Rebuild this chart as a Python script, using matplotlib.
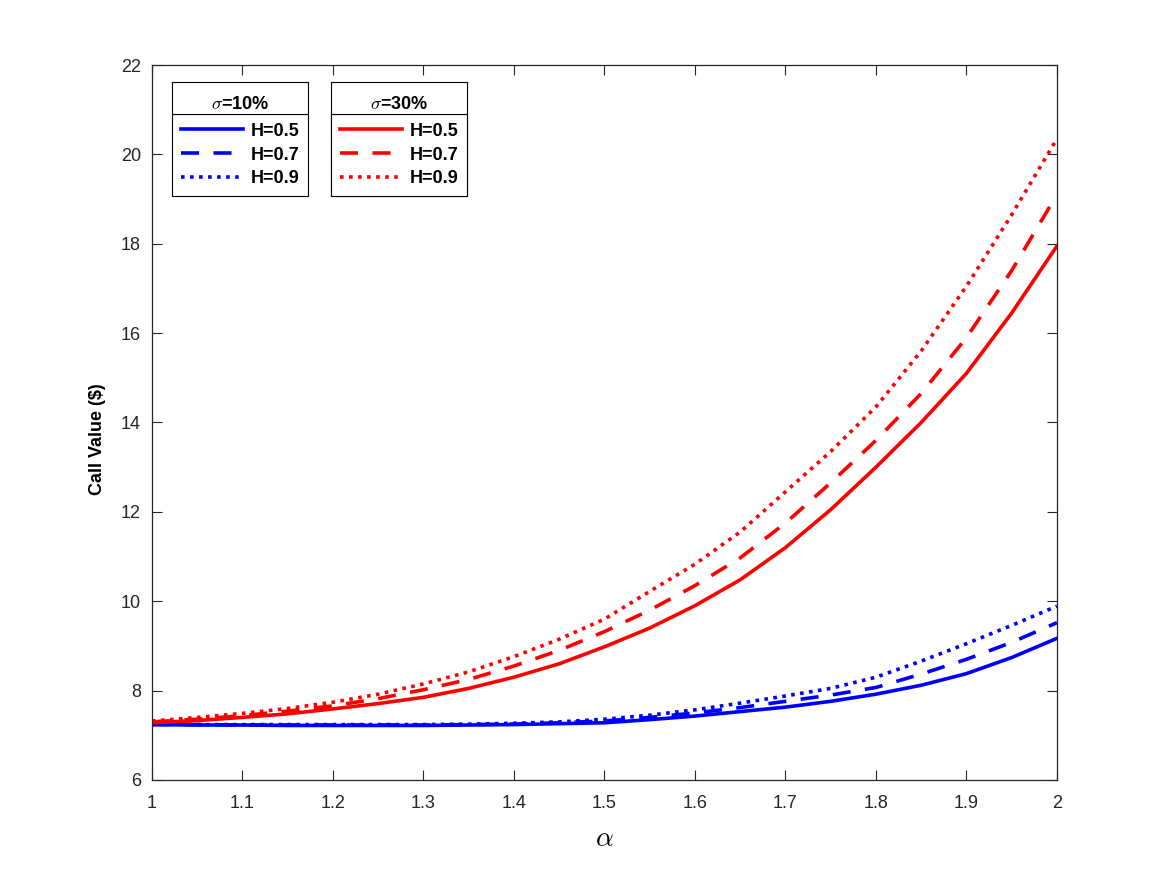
import numpy as np
import matplotlib
matplotlib.use('Agg')
import matplotlib.pyplot as plt
from matplotlib.patches import Rectangle

plt.rcParams['font.family'] = ['Liberation Sans', 'DejaVu Sans']
plt.rcParams['mathtext.fontset'] = 'cm'

# alpha grid
alpha = [1.00, 1.05, 1.10, 1.15, 1.20, 1.25, 1.30, 1.35, 1.40, 1.45, 1.50,
         1.55, 1.60, 1.65, 1.70, 1.75, 1.80, 1.85, 1.90, 1.95, 2.00]

# sigma = 10%
blue_h05 = [7.24, 7.23, 7.23, 7.22, 7.22, 7.22, 7.22, 7.23, 7.24, 7.26, 7.28,
            7.35, 7.43, 7.53, 7.63, 7.76, 7.92, 8.12, 8.38, 8.74, 9.17]
blue_h07 = [7.24, 7.24, 7.23, 7.23, 7.23, 7.23, 7.23, 7.24, 7.25, 7.28, 7.32,
            7.40, 7.50, 7.62, 7.76, 7.90, 8.07, 8.37, 8.70, 9.08, 9.52]
blue_h09 = [7.25, 7.24, 7.24, 7.24, 7.24, 7.24, 7.24, 7.25, 7.27, 7.30, 7.36,
            7.45, 7.57, 7.72, 7.88, 8.05, 8.30, 8.66, 9.05, 9.46, 9.89]

# sigma = 30%
red_h05 = [7.28, 7.33, 7.40, 7.48, 7.59, 7.71, 7.85, 8.05, 8.30, 8.60, 8.98,
           9.40, 9.90, 10.48, 11.20, 12.05, 13.00, 14.00, 15.10, 16.45, 17.95]
red_h07 = [7.30, 7.36, 7.44, 7.54, 7.66, 7.82, 8.02, 8.25, 8.55, 8.90, 9.32,
           9.80, 10.35, 10.97, 11.75, 12.65, 13.60, 14.65, 15.90, 17.40, 19.10]
red_h09 = [7.32, 7.40, 7.49, 7.60, 7.74, 7.92, 8.15, 8.42, 8.76, 9.15, 9.60,
           10.22, 10.83, 11.55, 12.45, 13.35, 14.35, 15.60, 17.05, 18.65, 20.35]

h_labels = ['H=0.5', 'H=0.7', 'H=0.9']
sigma_titles = [r'$\sigma$=10%', r'$\sigma$=30%']
x_ticks = [1, 1.1, 1.2, 1.3, 1.4, 1.5, 1.6, 1.7, 1.8, 1.9, 2]
x_ticklabels = ['1', '1.1', '1.2', '1.3', '1.4', '1.5', '1.6', '1.7', '1.8', '1.9', '2']
y_ticks = [6, 8, 10, 12, 14, 16, 18, 20, 22]

lw = 2.6
styles = [dict(linestyle='-'),
          dict(linestyle=(0, (5, 4))),
          dict(linestyle=(0, (1, 1.5)))]

fig = plt.figure(figsize=(11.67, 8.75), dpi=100)
ax = fig.add_axes([0.1302, 0.1086, 0.7755, 0.8171])

blue_lines = []
for ys, st, lab in zip([blue_h05, blue_h07, blue_h09], styles, h_labels):
    ln, = ax.plot(alpha, ys, color='#0000ff', lw=lw, label=lab, **st)
    blue_lines.append(ln)
red_lines = []
for ys, st, lab in zip([red_h05, red_h07, red_h09], styles, h_labels):
    ln, = ax.plot(alpha, ys, color='#ff0000', lw=lw, label=lab, **st)
    red_lines.append(ln)

ax.set_xlim(1, 2)
ax.set_ylim(6, 22)
ax.set_xticks(x_ticks)
ax.set_xticklabels(x_ticklabels)
ax.set_yticks(y_ticks)

axc = '#262626'
for sp in ax.spines.values():
    sp.set_color(axc)
    sp.set_linewidth(0.9)
ax.tick_params(direction='in', length=7, width=0.8, colors=axc,
               labelsize=13, top=True, right=True)
ax.tick_params(axis='x', pad=11)
ax.tick_params(axis='y', pad=8)

ax.set_ylabel('Call Value ($)', fontsize=13, fontweight='bold')
ax.yaxis.set_label_coords(-0.051, 0.477)
ax.set_xlabel(r'$\alpha$', fontsize=20, labelpad=10)

# legend entries box (top edge = title separator), title box drawn above it
entries_top = 0.9315   # axes fraction
title_top = 0.9762


def make_legend(lines, x):
    leg = ax.legend(handles=lines, loc='upper left', bbox_to_anchor=(x, entries_top),
                    borderaxespad=0, fancybox=False, framealpha=1,
                    edgecolor='black', handlelength=3.45, handletextpad=0.45,
                    labelspacing=0.38, borderpad=0.48,
                    prop={'weight': 'bold', 'size': 13})
    leg.get_frame().set_linewidth(0.8)
    ax.add_artist(leg)
    return leg


legs = [make_legend(blue_lines, 0.0221), make_legend(red_lines, 0.1978)]

fig.canvas.draw()
inv = ax.transAxes.inverted()
for leg, title in zip(legs, sigma_titles):
    bb = leg.get_window_extent()
    (x0, _), (x1, _) = inv.transform([[bb.x0, bb.y0], [bb.x1, bb.y1]])
    ax.add_patch(Rectangle((x0, entries_top), x1 - x0, title_top - entries_top,
                           transform=ax.transAxes, facecolor='white',
                           edgecolor='black', lw=0.8, zorder=6))
    ax.text((x0 + x1) / 2, entries_top + 0.15 * (title_top - entries_top), title,
            transform=ax.transAxes, ha='center', va='baseline',
            fontsize=13, fontweight='bold', zorder=7)

fig.savefig('out.png', dpi=100)
